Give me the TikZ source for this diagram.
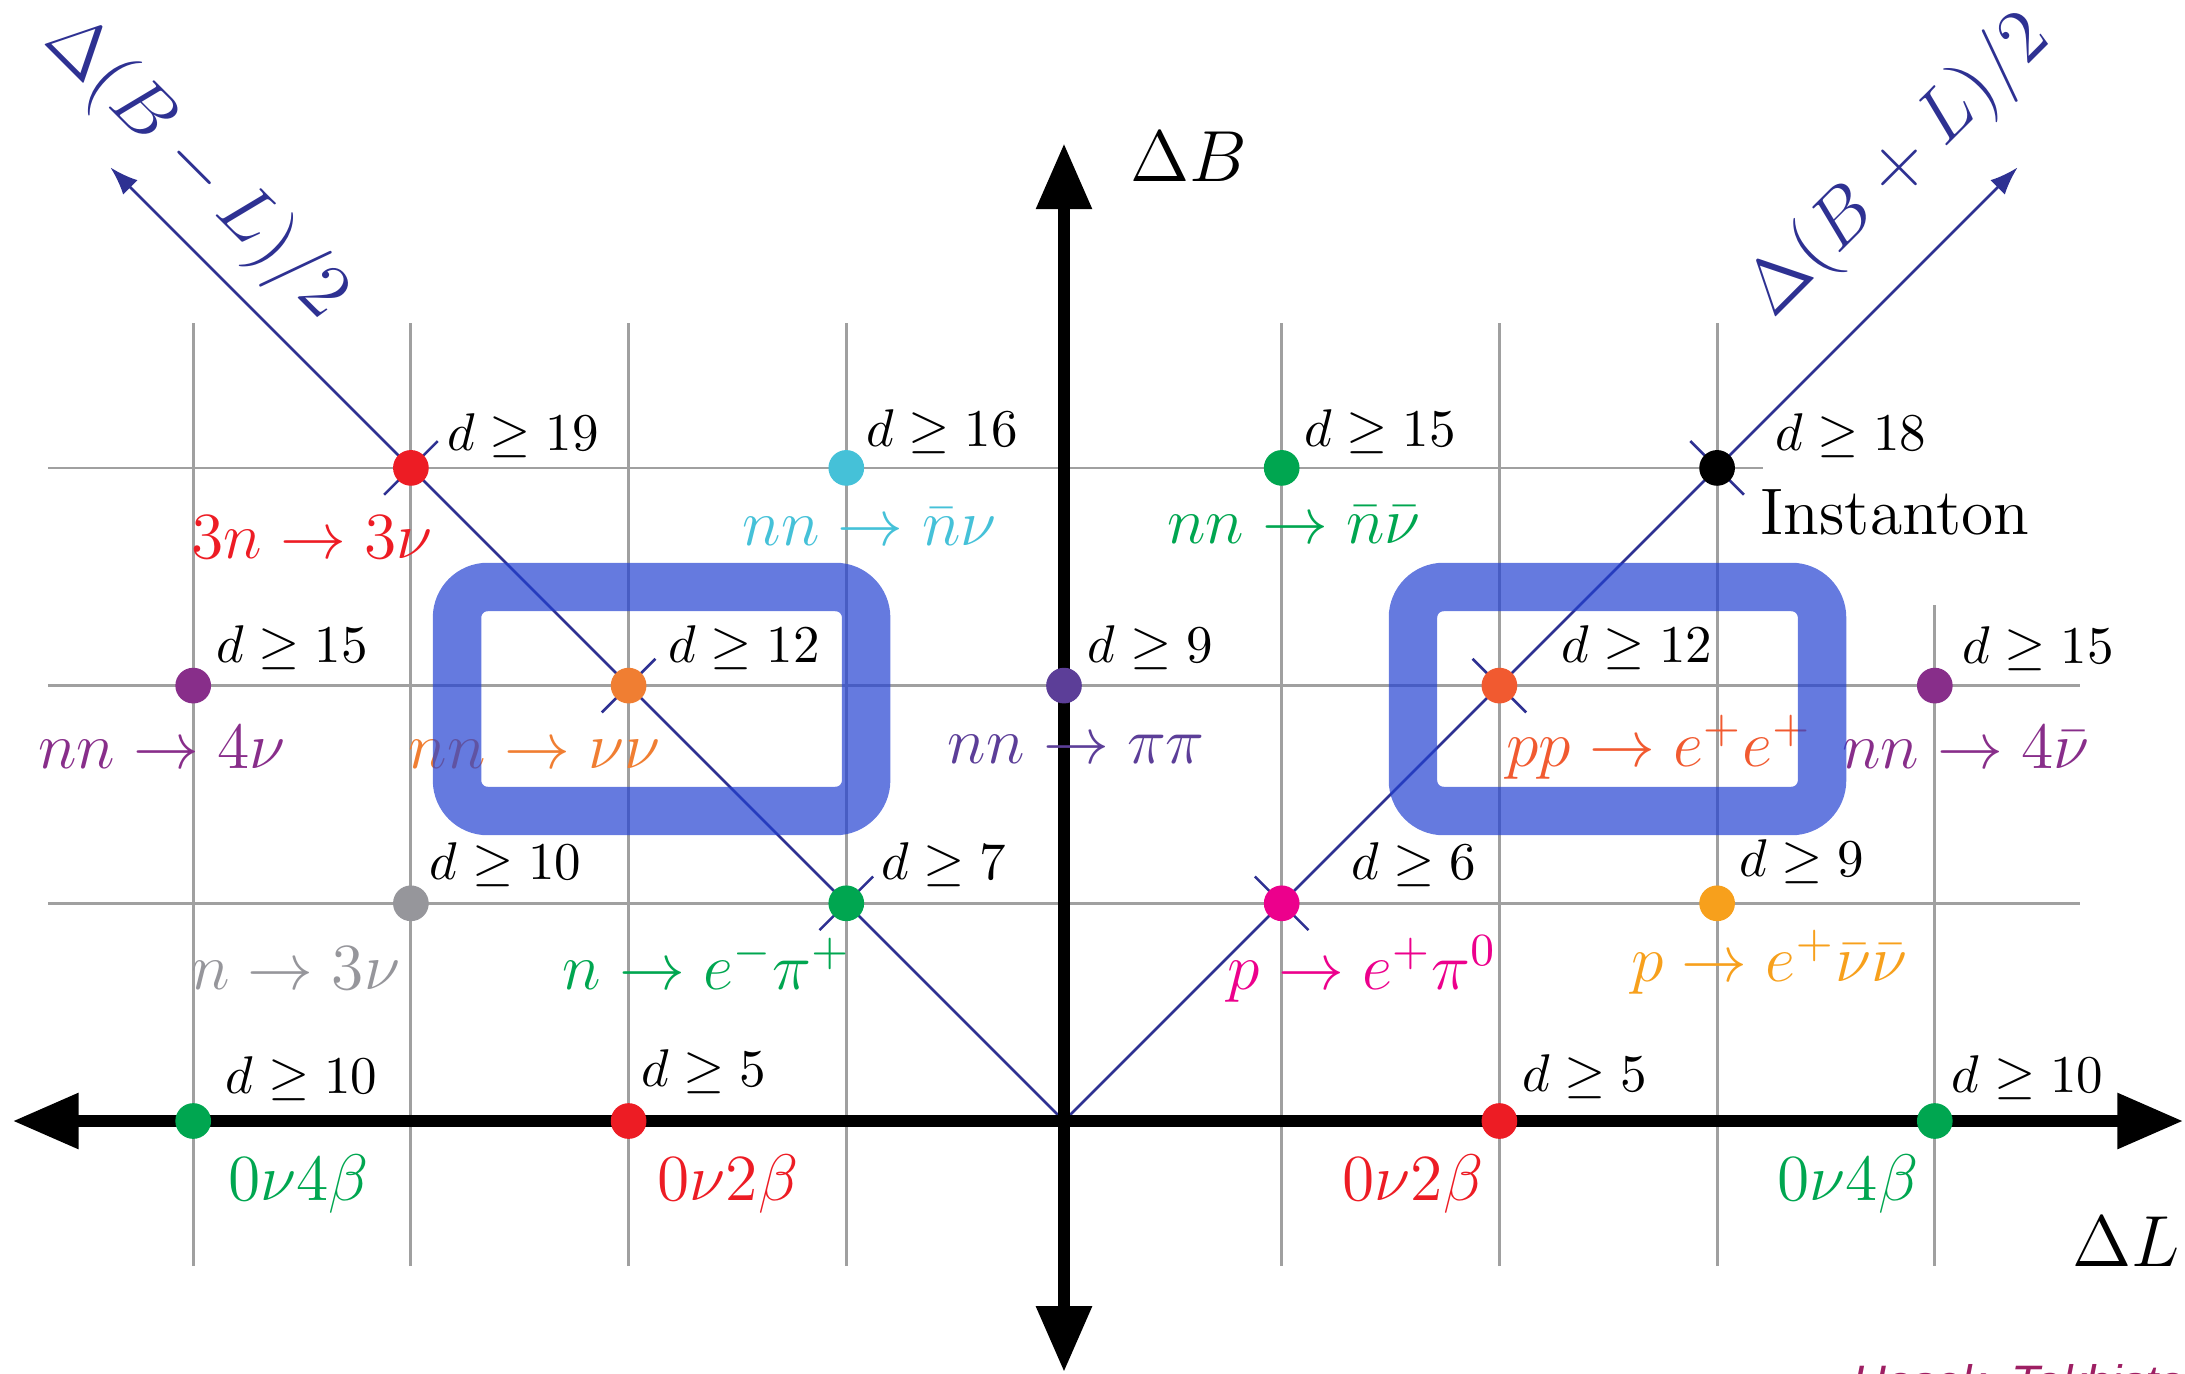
\RequirePackage{fix-cm}
\documentclass[tikz,border=0pt]{standalone}
\usepackage{fontspec}
\newfontfamily\wmfont{Liberation Sans}
\usetikzlibrary{arrows.meta}
\definecolor{diagblue}{RGB}{46,49,146}
\definecolor{gridgray}{RGB}{160,160,160}
\definecolor{cred}{RGB}{237,28,36}
\definecolor{ccyan}{RGB}{69,193,216}
\definecolor{cgreen}{RGB}{0,166,80}
\definecolor{cpurple}{RGB}{136,46,138}
\definecolor{corange}{RGB}{240,126,50}
\definecolor{cindigo}{RGB}{92,62,152}
\definecolor{credor}{RGB}{241,90,48}
\definecolor{cgray}{RGB}{150,150,155}
\definecolor{cmagenta}{RGB}{236,0,140}
\definecolor{cyellow}{RGB}{247,160,28}
\definecolor{boxblue}{RGB}{35,65,210}
\definecolor{wm}{RGB}{158,31,99}
\tikzset{
  gridline/.style={draw=gridgray, line width=0.55pt},
  diag/.style={draw=diagblue, line width=0.5pt},
  ticksty/.style={draw=diagblue, line width=0.5pt},
  axisline/.style={draw=black, line width=2.35pt},
  dot/.style={circle, inner sep=0pt, minimum size=7pt, draw=none},
  dlab/.style={anchor=base, inner sep=0pt, font=\fontsize{10.4}{12}\selectfont},
  rlab/.style={anchor=base, inner sep=0pt, font=\fontsize{12.9}{15}\selectfont},
  alab/.style={anchor=base, inner sep=0pt, font=\fontsize{14.2}{17}\selectfont},
  diaglab/.style={font=\fontsize{14.8}{18}\selectfont, text=diagblue, inner sep=0pt},
  hbox/.style={draw=boxblue, draw opacity=0.7, line width=9.5pt, rounded corners=6pt,
     inner sep=0pt, minimum width=2.8185cm, minimum height=1.5435cm},
}
\begin{document}
\begin{tikzpicture}[x=1.5cm,y=1.5cm]
\useasboundingbox (-4.8875,-1.1576) rectangle (5.1493,5.1493);
% grid
\foreach \yy in {1,2} \draw[gridline] (-4.667,\yy) -- (4.667,\yy);
\draw[gridline] (-4.667,3) -- (3.21,3);
\foreach \xx in {-4,-3,-2,-1,1,2,3} \draw[gridline] (\xx,-0.667) -- (\xx,3.667);
\draw[gridline] (4,-0.667) -- (4,2.37);
% coordinates
\coordinate (O) at (0,0);
\coordinate (dl) at (-4.38,4.38);
\coordinate (dr) at (4.38,4.38);
\coordinate (xl) at (-4.829,0);
\coordinate (xr) at (5.141,0);
\coordinate (yb) at (0,-1.153);
\coordinate (yt) at (0,4.491);
% diagonals
\draw[diag,-{Latex[length=5.5pt,width=4pt]}] (O) -- (dl);
\draw[diag,-{Latex[length=5.5pt,width=4pt]}] (O) -- (dr);
% axes
\draw[axisline,{Triangle[length=12.9pt,width=10.4pt]}-{Triangle[length=12.9pt,width=10.4pt]}] (xl) -- (xr);
\draw[axisline,{Triangle[length=12.9pt,width=10.4pt]}-{Triangle[length=12.9pt,width=10.4pt]}] (yb) -- (yt);
% ticks on diagonals
\foreach \p in {(-3,3),(-2,2),(-1,1)}
  \draw[ticksty] \p ++(-0.123,-0.123) -- ++(0.246,0.246);
\foreach \p in {(1,1),(2,2),(3,3)}
  \draw[ticksty] \p ++(-0.123,0.123) -- ++(0.246,-0.246);
% dots
\node[dot,fill=cred]     (a1) at (-3,3) {};
\node[dot,fill=ccyan]    (a2) at (-1,3) {};
\node[dot,fill=cgreen]   (a3) at (1,3) {};
\node[dot,fill=black]    (a4) at (3,3) {};
\node[dot,fill=cpurple]  (b1) at (-4,2) {};
\node[dot,fill=corange]  (b2) at (-2,2) {};
\node[dot,fill=cindigo]  (b3) at (0,2) {};
\node[dot,fill=credor]   (b4) at (2,2) {};
\node[dot,fill=cpurple]  (b5) at (4,2) {};
\node[dot,fill=cgray]    (c1) at (-3,1) {};
\node[dot,fill=cgreen]   (c2) at (-1,1) {};
\node[dot,fill=cmagenta] (c3) at (1,1) {};
\node[dot,fill=cyellow]  (c4) at (3,1) {};
\node[dot,fill=cgreen]   (e1) at (-4,0) {};
\node[dot,fill=cred]     (e2) at (-2,0) {};
\node[dot,fill=cred]     (e3) at (2,0) {};
\node[dot,fill=cgreen]   (e4) at (4,0) {};
% d labels
\node[dlab] (da1) at (-2.485,3.079) {$d\geq 19$};
\node[dlab] (da2) at (-0.559,3.097) {$d\geq 16$};
\node[dlab] (da3) at (1.451,3.100) {$d\geq 15$};
\node[dlab] (da4) at (3.614,3.079) {$d\geq 18$};
\node[dlab] (db1) at (-3.546,2.105) {$d\geq 15$};
\node[dlab] (db2) at (-1.470,2.105) {$d\geq 12$};
\node[dlab] (db3) at (0.396,2.105) {$d\geq 9$};
\node[dlab] (db4) at (2.631,2.105) {$d\geq 12$};
\node[dlab] (db5) at (4.474,2.102) {$d\geq 15$};
\node[dlab] (dc1) at (-2.565,1.110) {$d\geq 10$};
\node[dlab] (dc2) at (-0.553,1.110) {$d\geq 7$};
\node[dlab] (dc3) at (1.606,1.110) {$d\geq 6$};
\node[dlab] (dc4) at (3.389,1.125) {$d\geq 9$};
\node[dlab] (de1) at (-3.503,0.127) {$d\geq 10$};
\node[dlab] (de2) at (-1.655,0.157) {$d\geq 5$};
\node[dlab] (de3) at (2.391,0.137) {$d\geq 5$};
\node[dlab] (de4) at (4.426,0.131) {$d\geq 10$};
% reaction labels
\node[rlab,text=cred]     (ra1) at (-3.454,2.585) {$3n\to 3\nu$};
\node[rlab,text=ccyan]    (ra2) at (-0.893,2.643) {$nn\to \bar n\nu$};
\node[rlab,text=cgreen]   (ra3) at (1.057,2.653) {$nn\to \bar n\bar\nu$};
\node[rlab,text=black]    (ra4) at (3.817,2.696) {Instanton};
\node[rlab,text=cpurple]  (rb1) at (-4.143,1.620) {$nn\to 4\nu$};
\node[rlab,text=corange]  (rb2) at (-2.432,1.620) {$nn\to \nu\nu$};
\node[rlab,text=cindigo]  (rb3) at (0.057,1.640) {$nn\to \pi\pi$};
\node[rlab,text=credor]   (rb4) at (2.733,1.628) {$pp\to e^+e^+$};
\node[rlab,text=cpurple]  (rb5) at (4.143,1.620) {$nn\to 4\bar\nu$};
\node[rlab,text=cgray]    (rc1) at (-3.530,0.602) {$n\to 3\nu$};
\node[rlab,text=cgreen]   (rc2) at (-1.642,0.606) {$n\to e^-\pi^+$};
\node[rlab,text=cmagenta] (rc3) at (1.369,0.606) {$p\to e^+\pi^0$};
\node[rlab,text=cyellow]  (rc4) at (3.239,0.640) {$p\to e^+\bar\nu\bar\nu$};
\node[rlab,text=cgreen]   (re1) at (-3.517,-0.366) {$0\nu4\beta$};
\node[rlab,text=cred]     (re2) at (-1.544,-0.366) {$0\nu2\beta$};
\node[rlab,text=cred]     (re3) at (1.603,-0.366) {$0\nu2\beta$};
\node[rlab,text=cgreen]   (re4) at (3.601,-0.366) {$0\nu4\beta$};
% axis labels
\node[alab] (aB) at (0.574,4.315) {$\Delta B$};
\node[alab] (aL) at (4.877,-0.669) {$\Delta L$};
\node[diaglab, rotate=-45] (lbm) at (-3.99,4.375) {$\Delta(B-L)/2$};
\node[diaglab, rotate=45] (lbp) at (3.84,4.385) {$\Delta(B+L)/2$};
% highlight boxes
\node[hbox] (box1) at (-1.8485,1.9385) {};
\node[hbox] (box2) at (2.5425,1.9385) {};
% watermark
\node[anchor=base west, inner sep=0pt, text=wm, font=\wmfont\itshape\fontsize{9.2}{11}\selectfont] (wmk) at (3.617,-1.275) {Hosek, Takhistov};
\end{tikzpicture}
\end{document}
